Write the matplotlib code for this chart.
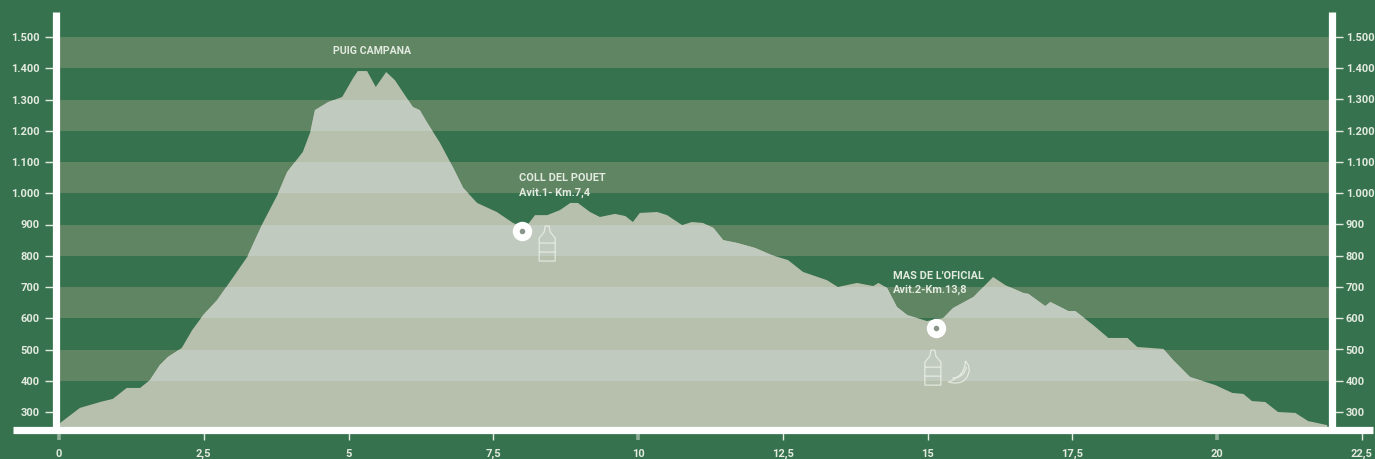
import matplotlib
matplotlib.use('Agg')
import matplotlib.pyplot as plt
from matplotlib.patches import PathPatch, Polygon
from matplotlib.path import Path
from matplotlib.transforms import Affine2D, ScaledTranslation

plt.rcParams['font.family'] = ['Roboto', 'DejaVu Sans']
plt.rcParams['font.weight'] = 'bold'

# distance (km) and altitude (m)
km = [0, 0.36, 0.71, 0.93, 1.17, 1.40, 1.57, 1.74, 1.88, 2.12, 2.30, 2.49, 2.73, 3.01, 3.25,
      3.52, 3.77, 3.94, 4.21, 4.34, 4.42, 4.65, 4.89, 5.08, 5.16, 5.32, 5.47, 5.65, 5.80, 6.11,
      6.23, 6.36, 6.58, 6.80, 6.98, 7.22, 7.56, 7.84, 8.05, 8.22, 8.43, 8.65, 8.83, 8.96, 9.17,
      9.34, 9.60, 9.78, 9.91, 10.03, 10.33, 10.50, 10.76, 10.93, 11.12, 11.30, 11.47, 11.71,
      12.02, 12.31, 12.59, 12.85, 13.26, 13.45, 13.78, 14.06, 14.15, 14.30, 14.47, 14.65, 14.99,
      15.27, 15.44, 15.79, 16.13, 16.34, 16.65, 16.74, 17.03, 17.12, 17.43, 17.55, 17.86, 18.12,
      18.45, 18.62, 19.07, 19.24, 19.53, 19.97, 20.26, 20.45, 20.60, 20.83, 21.05, 21.35, 21.57,
      21.90]
alt = [262, 313, 332, 342, 377, 377, 402, 450, 476, 505, 562, 610, 658, 732, 796,
       905, 994, 1068, 1132, 1196, 1266, 1292, 1308, 1369, 1391, 1391, 1340, 1388, 1362, 1276,
       1266, 1225, 1161, 1084, 1017, 969, 940, 905, 889, 930, 930, 946, 969, 969, 940,
       924, 934, 927, 908, 937, 940, 930, 898, 908, 905, 889, 850, 841,
       825, 802, 786, 748, 722, 700, 713, 703, 713, 697, 636, 610, 591,
       601, 633, 668, 732, 706, 681, 678, 639, 652, 623, 623, 578, 537,
       537, 508, 502, 466, 412, 386, 361, 358, 335, 332, 300, 297, 271,
       258]

y_ticks = [300, 400, 500, 600, 700, 800, 900, 1000, 1100, 1200, 1300, 1400, 1500]
y_labels = ['300', '400', '500', '600', '700', '800', '900', '1.000', '1.100', '1.200', '1.300', '1.400', '1.500']
x_ticks = [0, 2.5, 5, 7.5, 10, 12.5, 15, 17.5, 20, 22.5]
x_labels = ['0', '2,5', '5', '7,5', '10', '12,5', '15', '17,5', '20', '22,5']
band_low = [400, 600, 800, 1000, 1200, 1400]
band_high = [500, 700, 900, 1100, 1300, 1500]

aid_km = [8.0, 15.15]
aid_alt = [879, 569]
bottle_km = [8.43, 15.09]
bottle_alt = [783, 386]

BG = '#36724e'
BAND = '#5f8562'
HILL = '#b7bfad'
HILL_BAND = '#c1cabf'
WHITE = '#ffffff'
TEXT = '#e3eae0'
TICK_SIZE = 8
NOTE_SIZE = 7.9

fig = plt.figure(figsize=(13.75, 4.59), dpi=100, facecolor=BG)
ax = fig.add_axes([13 / 1375, 29.5 / 459, 1360 / 1375, 417.5 / 459], facecolor=BG)
ax.set_xlim(-0.794, 22.69)
ax.set_ylim(244, 1580)

RIGHT_KM = 21.99

# stripes, then the hill with its own lighter stripes clipped to its shape
for lo, hi in zip(band_low, band_high):
    ax.fill_between([0, RIGHT_KM], lo, hi, color=BAND, lw=0, zorder=1)

hill_xy = [(km[0], 244)] + list(zip(km, alt)) + [(km[-1], 244)]
hill = Polygon(hill_xy, closed=True, facecolor=HILL, edgecolor='none', zorder=2, joinstyle='round')
ax.add_patch(hill)
for lo, hi in zip(band_low, band_high):
    b = ax.fill_between([0, RIGHT_KM], lo, hi, color=HILL_BAND, lw=0, zorder=3)
    b.set_clip_path(hill)

# axes
for side in ['top', 'right']:
    ax.spines[side].set_visible(False)
ax.spines['left'].set_position(('data', -0.06))
for side in ['left', 'bottom']:
    ax.spines[side].set_color(WHITE)
    ax.spines[side].set_linewidth(5.2)
    ax.spines[side].set_capstyle('butt')
    ax.spines[side].set_zorder(6)
ax.set_yticks(y_ticks)
ax.set_yticklabels(y_labels)
ax.set_xticks(x_ticks)
ax.set_xticklabels(x_labels)
ax.tick_params(axis='y', length=8, width=1, color=TEXT, labelcolor=TEXT, labelsize=TICK_SIZE, pad=3.5)
ax.tick_params(axis='x', length=7.5, width=1, color=TEXT, labelcolor=TEXT, labelsize=TICK_SIZE, pad=6.5)
# the 0, 10 and 20 ticks are wider and fainter
for i in [0, 4, 8]:
    line = ax.xaxis.get_major_ticks()[i].tick1line
    line.set_markeredgewidth(2.6)
    line.set_alpha(0.5)

ax2 = ax.twinx()
ax2.set_ylim(ax.get_ylim())
ax2.patch.set_visible(False)
for side in ['top', 'left', 'bottom']:
    ax2.spines[side].set_visible(False)
ax2.spines['right'].set_position(('data', RIGHT_KM))
ax2.spines['right'].set_color(WHITE)
ax2.spines['right'].set_linewidth(5.2)
ax2.spines['right'].set_capstyle('butt')
ax2.set_yticks(y_ticks)
ax2.set_yticklabels(y_labels)
ax2.tick_params(axis='y', length=8, width=1, color=TEXT, labelcolor=TEXT, labelsize=TICK_SIZE, pad=1.5)

# aid station rings
ax2.plot(aid_km, aid_alt, 'o', ms=14, mfc=WHITE, mec='none', zorder=7)
ax2.plot(aid_km, aid_alt, 'o', ms=4, mfc='#8a958a', mec='none', zorder=8)

# labels
ax2.text(5.41, 1455, 'PUIG CAMPANA', color=TEXT, fontsize=7.6, ha='center', va='center')
ax2.text(7.95, 1049, 'COLL DEL POUET', color=TEXT, fontsize=NOTE_SIZE, ha='left', va='center')
ax2.text(7.95, 1001, 'Avit.1- Km.7,4', color=TEXT, fontsize=NOTE_SIZE, ha='left', va='center')
ax2.text(14.4, 735, "MAS DE L'OFICIAL", color=TEXT, fontsize=NOTE_SIZE, ha='left', va='center')
ax2.text(14.4, 690, 'Avit.2-Km.13,8', color=TEXT, fontsize=NOTE_SIZE, ha='left', va='center')

# little icons, drawn in pixels around a data anchor
bottle = Path(
    [(-8, 0), (8, 0), (8, 23), (3, 29), (2, 35), (-2, 35), (-3, 29), (-8, 23), (-8, 0),
     (-8, 9), (8, 9), (-8, 18), (8, 18)],
    [Path.MOVETO] + [Path.LINETO] * 7 + [Path.CLOSEPOLY, Path.MOVETO, Path.LINETO, Path.MOVETO, Path.LINETO])
banana = Path(
    [(-10, -9), (8, -14), (11, 3), (10, 8), (7, 12), (7, 12), (7, -3), (-10, -9), (-10, -9),
     (-6, -5), (6, -5), (8, 6)],
    [Path.MOVETO, Path.CURVE3, Path.CURVE3, Path.LINETO, Path.LINETO, Path.LINETO,
     Path.CURVE3, Path.CURVE3, Path.CLOSEPOLY, Path.MOVETO, Path.CURVE3, Path.CURVE3])


def icon(path, x, y):
    tr = ScaledTranslation(x, y, ax2.transData)
    ax2.add_patch(PathPatch(path, fc='none', ec='#f1f4ee', lw=0.9, alpha=0.75, zorder=7,
                            transform=Affine2D() + tr, clip_on=False))


for bx, by in zip(bottle_km, bottle_alt):
    icon(bottle, bx, by)
icon(banana, 15.53, 425)

fig.savefig('out.png', dpi=100, facecolor=BG)
